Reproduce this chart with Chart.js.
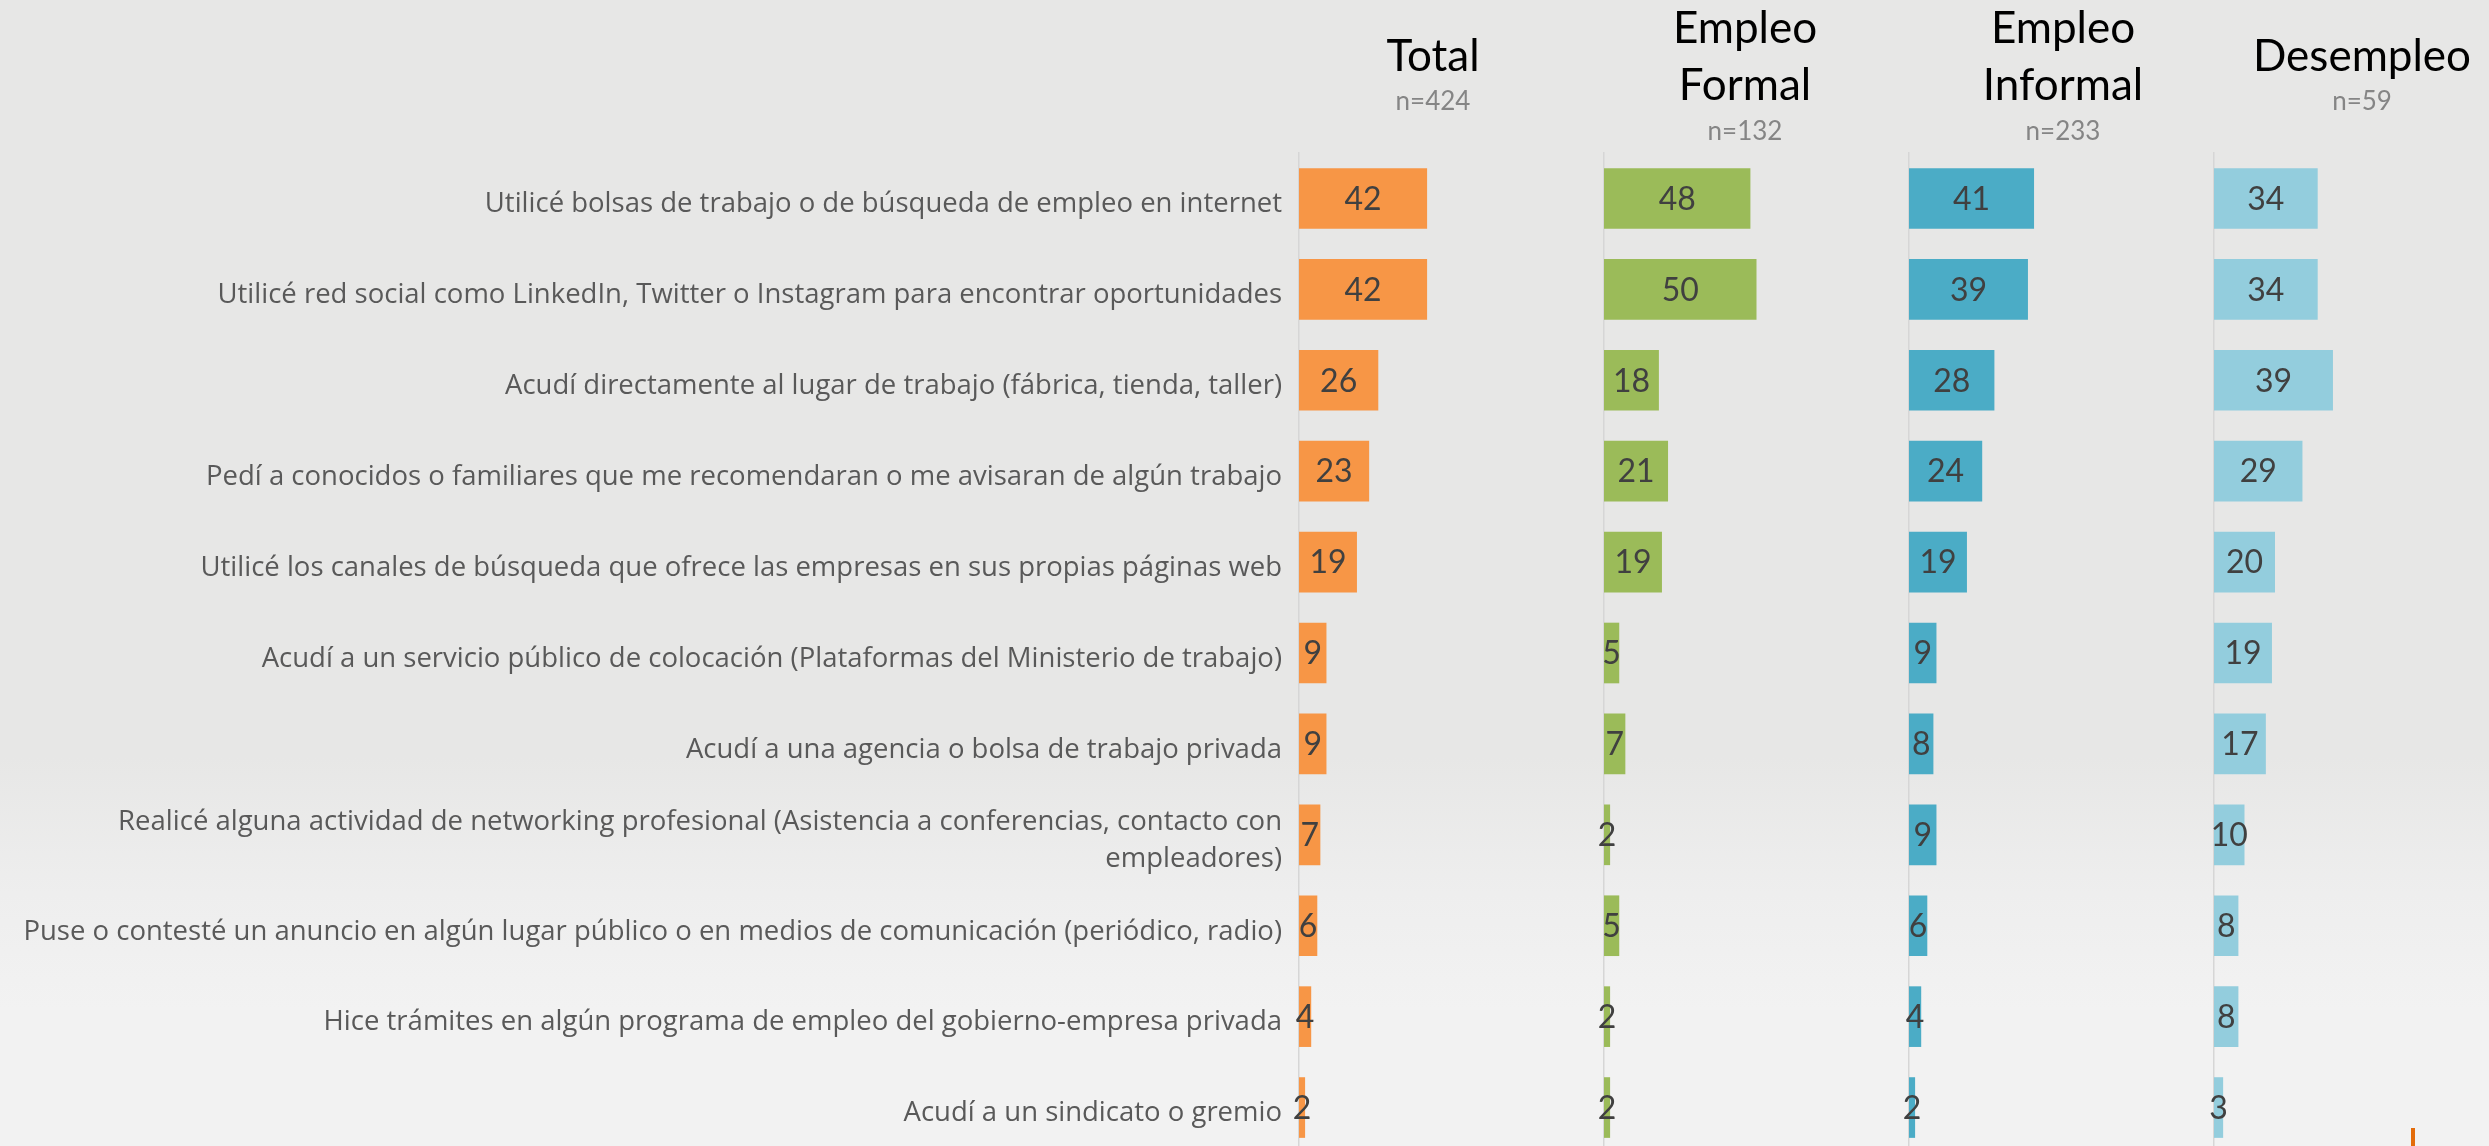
<!DOCTYPE html>
<html>
<head>
<meta charset="utf-8">
<script src="https://cdn.jsdelivr.net/npm/chart.js@4.4.1/dist/chart.umd.min.js"></script>
<style>
  html, body { margin: 0; padding: 0; overflow: hidden; width: 2489px; height: 1146px; }
  body { background: linear-gradient(to bottom, #e7e7e6 0%, #e7e7e6 66%, #eeeeee 78%, #f2f2f2 88%, #f2f2f2 100%); position: relative; }
  .layer { position: absolute; left: 0; top: 0; }
  #mark { position: absolute; left: 2411px; top: 1128px; width: 4px; height: 20px; background: #e36c0a; }
</style>
</head>
<body>
<canvas id="c1" class="layer" width="2560" height="1160"></canvas>
<canvas id="c2" class="layer" width="2560" height="1160"></canvas>
<canvas id="c3" class="layer" width="2560" height="1160"></canvas>
<canvas id="c4" class="layer" width="2560" height="1160"></canvas>
<div id="mark"></div>
<script>
// ---------- DATA ----------
const categories = [
  "Utilicé bolsas de trabajo o de búsqueda de empleo en internet",
  "Utilicé red social como LinkedIn, Twitter o Instagram para encontrar oportunidades",
  "Acudí directamente al lugar de trabajo (fábrica, tienda, taller)",
  "Pedí a conocidos o familiares que me recomendaran o me avisaran de algún trabajo",
  "Utilicé los canales de búsqueda que ofrece las empresas en sus propias páginas web",
  "Acudí a un servicio público de colocación (Plataformas del Ministerio de trabajo)",
  "Acudí a una agencia o bolsa de trabajo privada",
  ["Realicé alguna actividad de networking profesional (Asistencia a conferencias, contacto con", "empleadores)"],
  "Puse o contesté un anuncio en algún lugar público o en medios de comunicación (periódico, radio)",
  "Hice trámites en algún programa de empleo del gobierno-empresa privada",
  "Acudí a un sindicato o gremio"
];
const totalValues     = [42, 42, 26, 23, 19, 9, 9, 7, 6, 4, 2];
const formalValues    = [48, 50, 18, 21, 19, 5, 7, 2, 5, 2, 2];
const informalValues  = [41, 39, 28, 24, 19, 9, 8, 9, 6, 4, 2];
const desempleoValues = [34, 34, 39, 29, 20, 19, 17, 10, 8, 8, 3];
const groupTitles = [["Total"], ["Empleo", "Formal"], ["Empleo", "Informal"], ["Desempleo"]];
const groupSizes  = ["n=424", "n=132", "n=233", "n=59"];

// ---------- STYLE / LAYOUT ----------
const seriesColors = ["#F79646", "#9BBB59", "#4BACC6", "#93CDDD"];
const columnStarts = [1299, 1604, 1909, 2214];
const columnWidth = 305;
const canvasW = 2560;
const headerCenters = [1433, 1745, 2063, 2362];
const FONT = "Lato, 'Open Sans', sans-serif";
const LABEL_FONT = "'Open Sans', Lato, sans-serif";

const valueLabelPlugin = {
  id: 'valueLabels',
  afterDatasetsDraw(chart) {
    const ctx = chart.ctx;
    ctx.save();
    ctx.font = "32px " + FONT;
    ctx.fillStyle = "#404040";
    ctx.textAlign = "center";
    ctx.textBaseline = "middle";
    chart.data.datasets.forEach((ds, di) => {
      const meta = chart.getDatasetMeta(di);
      meta.data.forEach((el, i) => {
        const cx = (el.x + el.base) / 2;
        ctx.fillText(String(ds.data[i]), cx, el.y + 1);
      });
    });
    ctx.restore();
  }
};

const headerPlugin = {
  id: 'headers',
  afterDraw(chart) {
    const ctx = chart.ctx;
    ctx.save();
    ctx.textAlign = "center";
    ctx.textBaseline = "alphabetic";
    groupTitles.forEach((lines, gi) => {
      const cx = headerCenters[gi];
      ctx.font = "44px " + FONT;
      ctx.fillStyle = "#000000";
      let nBase;
      if (lines.length === 2) {
        ctx.fillText(lines[0], cx, 43);
        ctx.fillText(lines[1], cx, 99.5);
        nBase = 139.5;
      } else {
        ctx.fillText(lines[0], cx, 71);
        nBase = 110;
      }
      ctx.font = "26px " + FONT;
      ctx.fillStyle = "#858585";
      ctx.fillText(groupSizes[gi], cx, nBase);
    });
    ctx.restore();
  }
};

function makeChart(canvasId, values, colIndex, showLabels, extraPlugins) {
  const left = showLabels ? 0 : columnStarts[colIndex];
  const right = canvasW - (columnStarts[colIndex] + columnWidth);
  return new Chart(document.getElementById(canvasId), {
    type: 'bar',
    data: {
      labels: categories,
      datasets: [{
        data: values,
        backgroundColor: seriesColors[colIndex],
        borderWidth: 0,
        categoryPercentage: 1.0,
        barPercentage: 0.667
      }]
    },
    options: {
      indexAxis: 'y',
      responsive: false,
      devicePixelRatio: 1,
      animation: false,
      events: [],
      layout: { padding: { left: left, right: right, top: 153, bottom: 7 } },
      plugins: { legend: { display: false }, tooltip: { enabled: false }, title: { display: false } },
      scales: {
        x: { display: false, min: 0, max: 100 },
        y: {
          display: true,
          grid: { display: false, drawTicks: false },
          border: { display: true, color: '#d6d6d6', width: 1.5 },
          ticks: {
            display: showLabels,
            padding: 17,
            labelOffset: 6,
            autoSkip: false,
            color: '#595959',
            font: { family: LABEL_FONT, size: 27.5, lineHeight: 1.345 }
          },
          afterFit: (scale) => {
            scale.width = showLabels ? columnStarts[0] : 0;
            scale.paddingTop = 0;
            scale.paddingBottom = 0;
          }
        }
      }
    },
    plugins: [valueLabelPlugin].concat(extraPlugins || [])
  });
}

makeChart('c1', totalValues, 0, true, [headerPlugin]);
makeChart('c2', formalValues, 1, false);
makeChart('c3', informalValues, 2, false);
makeChart('c4', desempleoValues, 3, false);
</script>
</body>
</html>
